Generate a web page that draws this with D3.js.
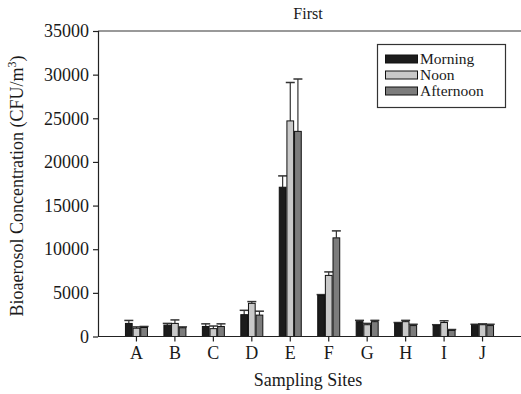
<!DOCTYPE html>
<html><head><meta charset="utf-8">
<script src="https://cdn.jsdelivr.net/npm/d3@7"></script>
<style>body{margin:0;background:#fff}svg{display:block}</style>
</head><body>
<script>
const categories = ["A","B","C","D","E","F","G","H","I","J"];
const seriesNames = ["Morning","Noon","Afternoon"];
const morning    = [1500, 1300, 1150, 2500, 17100, 4700, 1700, 1500, 1250, 1300];
const noon       = [ 950, 1500,  900, 3800, 24700, 7000, 1350, 1700, 1600, 1350];
const afternoon  = [1030, 1000, 1150, 2450, 23500, 11300, 1700, 1250, 700, 1250];
const morningErr   = [1840, 1500, 1450, 3000, 18400, 4800, 1850, 1600, 1350, 1400];
const noonErr      = [1100, 1900, 1200, 4000, 29100, 7400, 1500, 1850, 1800, 1450];
const afternoonErr = [1150, 1100, 1450, 2900, 29500, 12100, 1850, 1400, 800, 1400];
const yTicks = [0,5000,10000,15000,20000,25000,30000,35000];
const fills = ["#1c1c1c","#c9c9c9","#7c7c7c"];

const FONT='"Liberation Serif","Times New Roman",serif';
const W=521,H=394;
const svg=d3.select("body").append("svg").attr("width",W).attr("height",H)
  .attr("font-family",FONT).style("font-family",FONT);
const x0=d3.scaleBand().domain(categories).range([98,521]).paddingInner(0).paddingOuter(0.5);
const x1=d3.scaleBand().domain(seriesNames).range([-11,11]).paddingInner(0.12);
const y=d3.scaleLinear().domain([0,35000]).range([336.5,31]);

const vals=[morning,noon,afternoon], errs=[morningErr,noonErr,afternoonErr];

svg.append("line").attr("x1",98).attr("x2",521).attr("y1",31).attr("y2",31).attr("stroke","#777").attr("stroke-width",1.5);

categories.forEach((c,i)=>{
  seriesNames.forEach((s,j)=>{
    const cx=x0(c)+x0.bandwidth()/2;
    const bx=cx+x1(s), bw=x1.bandwidth();
    const mid=bx+bw/2;
    svg.append("line").attr("x1",mid).attr("x2",mid).attr("y1",y(vals[j][i])).attr("y2",y(errs[j][i])).attr("stroke","#333").attr("stroke-width",1.2);
    svg.append("line").attr("x1",mid-4.5).attr("x2",mid+4.5).attr("y1",y(errs[j][i])).attr("y2",y(errs[j][i])).attr("stroke","#333").attr("stroke-width",1.5);
    svg.append("rect").attr("x",bx).attr("y",y(vals[j][i])).attr("width",bw).attr("height",y(0)-y(vals[j][i]))
      .attr("fill",fills[j]).attr("stroke","#111").attr("stroke-width",1);
  });
});

function styleAxis(g){
  g.attr("font-family",FONT);
  g.selectAll("text").attr("font-family",FONT).style("font-family",FONT).style("font-size","18px").attr("fill","#1a1a1a");
  g.selectAll("line,path").attr("stroke","#222").attr("stroke-width",1.2);
}
const ya=svg.append("g").attr("transform","translate(98,0)").call(d3.axisLeft(y).tickValues(yTicks).tickSize(5).tickPadding(4).tickFormat(d3.format("d")));
styleAxis(ya);
ya.select(".domain").attr("d","M0.5,31V336.5");

const xa=svg.append("g").attr("transform","translate(0,336.5)").call(d3.axisBottom(x0).tickSize(5).tickPadding(5));
styleAxis(xa);
xa.select(".domain").attr("d","M98,0H521");

function txt(sel){return sel.attr("font-family",FONT).style("font-family",FONT).attr("fill","#1a1a1a");}
txt(svg.append("text")).attr("x",308).attr("y",19).attr("text-anchor","middle").style("font-size","16px").text("First");
txt(svg.append("text")).attr("x",308).attr("y",386).attr("text-anchor","middle").style("font-size","18px").text("Sampling Sites");
const yl=txt(svg.append("text")).attr("transform","translate(23,186) rotate(-90)").attr("text-anchor","middle").style("font-size","18px");
yl.append("tspan").text("Bioaerosol Concentration (CFU/m");
yl.append("tspan").attr("dy",-7).style("font-size","12px").text("3");
yl.append("tspan").attr("dy",7).text(")");

const lg=svg.append("g");
lg.append("rect").attr("x",377.5).attr("y",44.5).attr("width",128).attr("height",63).attr("fill","#fff").attr("stroke","#333").attr("stroke-width",1.2);
seriesNames.forEach((s,j)=>{
  const cy=59+j*16;
  lg.append("rect").attr("x",385.5).attr("y",cy-4).attr("width",32).attr("height",8).attr("fill",fills[j]).attr("stroke","#111").attr("stroke-width",1);
  txt(lg.append("text")).attr("x",420).attr("y",cy+5).style("font-size","15.5px").text(s);
});
</script>
</body></html>
